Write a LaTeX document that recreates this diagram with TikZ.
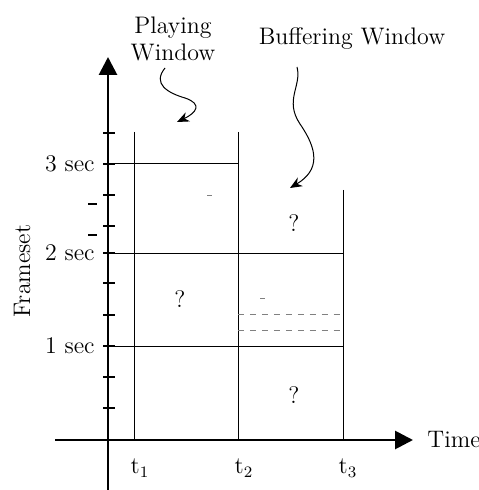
\documentclass[tikz,border=0pt]{standalone}
\usetikzlibrary{arrows.meta,positioning}
\begin{document}
\begin{tikzpicture}[x=0.5bp,y=-0.5bp,
  axis/.style={line width=1.4bp,-{Triangle[length=9bp,width=9bp]}},
  grid/.style={line width=0.5bp},
  tick/.style={line width=0.8bp},
  lbl/.style={font=\large,inner sep=1pt},
  wave/.style={line width=0.5bp,-{Stealth[length=6bp,width=5bp]}},
  smear/.style={line width=0.5bp,gray,dashed}
]
  \useasboundingbox (0,0) rectangle (479,490);

  % axes
  \coordinate (o) at (108,440);
  \draw[axis] (108,490) -- (108,57);
  \draw[axis] (55,440) -- (413,440);

  % ticks on the frameset axis
  \foreach \y in {133,164,195,226,253,283,315,346,377,408}
    \draw[tick] (103,\y) -- (115,\y);
  \draw[tick] (88,204) -- (97,204);
  \draw[tick] (88,235) -- (97,235);

  % window borders
  \draw[grid] (134,132) -- (134,440);
  \draw[grid] (238,132) -- (238,440);
  \draw[grid] (343,190) -- (343,440);
  \draw[grid] (108,164) -- (238,164);
  \draw[grid] (108,253) -- (343,253);
  \draw[grid] (108,346) -- (343,346);
  \draw[smear] (238,314) -- (343,314);
  \draw[smear] (238,330) -- (343,330);
  \draw[gray,line width=0.4bp] (207,195) -- (212,195);
  \draw[gray,line width=0.4bp] (260,298) -- (265,298);

  % axis labels
  \node[lbl,anchor=east] (s3) at (97,164) {3 sec};
  \node[lbl,anchor=east] (s2) at (97,253) {2 sec};
  \node[lbl,anchor=east] (s1) at (97,346) {1 sec};
  \node[lbl,rotate=90] (fs) at (22,271) {Frameset};
  \node[lbl,anchor=west] (time) at (425,440) {Time};
  \node[lbl] (t1) at (140,468) {t$_1$};
  \node[lbl] (t2) at (244,468) {t$_2$};
  \node[lbl] (t3) at (348,468) {t$_3$};

  % unknown regions
  \node[lbl] (q1) at (180,299) {?};
  \node[lbl] (q2) at (294,223) {?};
  \node[lbl] (q3) at (294,395) {?};

  % window captions
  \node[lbl,align=center] (play) at (173,39) {Playing\\Window};
  \node[lbl] (buff) at (352,39) {Buffering Window};
  \coordinate (playtip) at (177,122);
  \coordinate (bufftip) at (290,188);
  \draw[wave] (165,68) .. controls (152,84) and (168,93) .. (185,98)
    .. controls (203,104) and (196,113) .. (playtip);
  \draw[wave] (297,67) .. controls (302,86) and (284,100) .. (300,124)
    .. controls (318,150) and (320,170) .. (bufftip);
\end{tikzpicture}
\end{document}
